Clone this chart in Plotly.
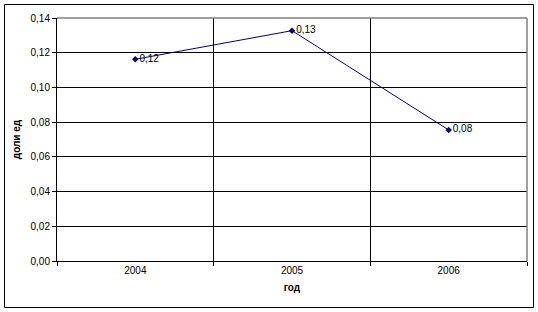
import plotly.graph_objects as go

years = ["2004", "2005", "2006"]
share = [0.1162, 0.1327, 0.0755]
y_ticks = [0.00, 0.02, 0.04, 0.06, 0.08, 0.10, 0.12, 0.14]

W, H = 538, 312
L, R, T, B = 57, 11, 18, 51
pw, ph = W - L - R, H - T - B

fig = go.Figure()
fig.add_trace(go.Scatter(
    x=years, y=share, mode="lines+markers+text",
    line=dict(color="#000080", width=1),
    marker=dict(symbol="diamond", size=5, color="#000080"),
    texttemplate="%{y:.2f}", textposition="middle right",
    textfont=dict(family="Liberation Sans, Arial", size=10, color="#000000"),
    cliponaxis=False, showlegend=False,
))

# gridlines at category centres
for c in years:
    fig.add_shape(type="line", xref="x", yref="paper", x0=c, x1=c, y0=0, y1=1,
                  line=dict(color="#000000", width=1), layer="below")
# grey plot-area border (top, right)
fig.add_shape(type="line", xref="paper", yref="paper", x0=0, x1=1, y0=1, y1=1,
              line=dict(color="#808080", width=1.5))
fig.add_shape(type="line", xref="paper", yref="paper", x0=1, x1=1, y0=0, y1=1,
              line=dict(color="#808080", width=1.5))
# outer chart border
fig.add_shape(type="rect", xref="paper", yref="paper",
              x0=(4.5 - L) / pw, x1=(533.5 - L) / pw,
              y0=(T + ph - 307.5) / ph, y1=(T + ph - 4.5) / ph,
              line=dict(color="#000000", width=1))

fig.update_layout(
    width=W, height=H, margin=dict(l=L, r=R, t=T, b=B, pad=0),
    paper_bgcolor="white", plot_bgcolor="white",
    separators=", ",
    font=dict(family="Liberation Sans, Arial", size=10, color="#000000"),
    xaxis=dict(type="category", range=[-0.5, 2.5], tickson="boundaries",
               ticks="outside", ticklen=4, tickcolor="#000000",
               showgrid=True, gridcolor="#000000", gridwidth=1,
               showline=True, linecolor="#000000", linewidth=1,
               title=dict(text="<b>год</b>", standoff=8, font=dict(size=10)),
               fixedrange=True),
    yaxis=dict(range=[0, 0.14], tickvals=y_ticks, tickformat=".2f",
               ticks="outside", ticklen=4, tickcolor="#000000",
               showgrid=True, gridcolor="#000000", gridwidth=1,
               showline=True, linecolor="#000000", linewidth=1,
               zeroline=False,
               title=dict(text="<b>доли ед</b>", standoff=8, font=dict(size=10)),
               fixedrange=True),
)

fig.write_html("out.html")
